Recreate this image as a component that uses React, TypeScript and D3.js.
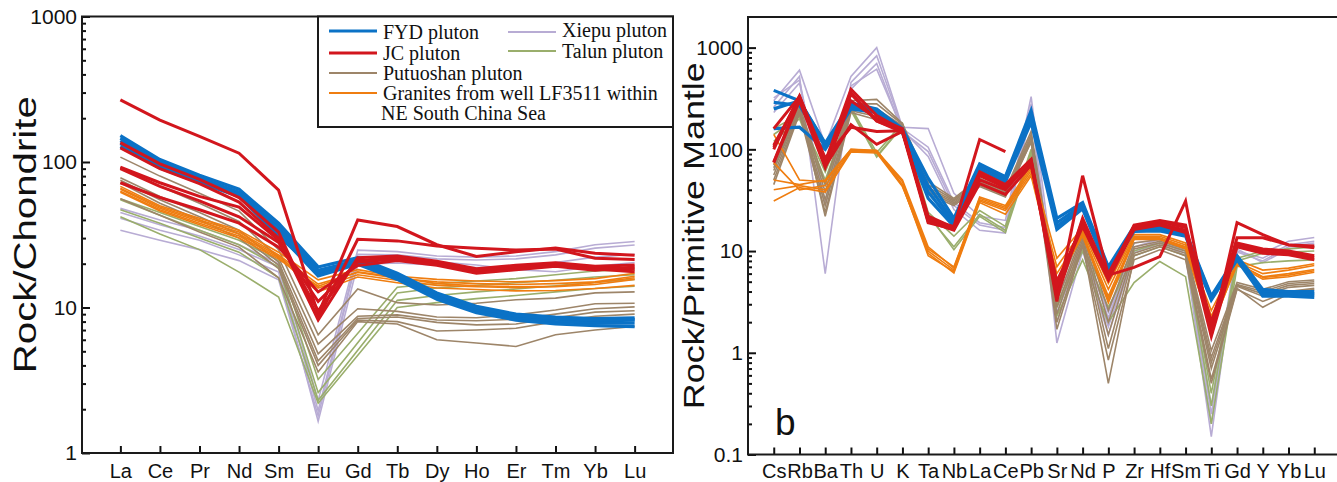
import React, { useEffect, useRef } from "react";
import * as d3 from "d3";

type Row = (number | null)[];

// ---- panel a: chondrite-normalised REE ----
const reeElements = ["La", "Ce", "Pr", "Nd", "Sm", "Eu", "Gd", "Tb", "Dy", "Ho", "Er", "Tm", "Yb", "Lu"];
const reeTicks = [1, 10, 100, 1000];

const xiepuRee: Row[] = [
  [48, 40, 34, 27, 20, 2.3, 24.8, 24.2, 22.6, 22.2, 22.6, 24.2, 27, 28.4],
  [45, 37, 31, 25, 19, 1.95, 23.2, 23.0, 21.6, 21.2, 21.6, 23.0, 25.6, 26.9],
  [41, 34, 29, 23, 17.5, 1.65, 19.8, 20.2, 19.5, 18.8, 18.8, 20.4, 22.2, 23.2],
  [34, 29, 25, 21, 15.5, 1.8, 22.5, 22.0, 20.6, 19.6, 18.2, 17.6, 19.2, 20.4],
];
const talunRee: Row[] = [
  [56, 45, 36, 29, 21, 3.2, null, 13.8, 14.6, 15.2, 15.8, 16.8, 17.8, 18.2],
  [55, 43, 34, 27, 19, 2.6, null, 12.6, 13.6, 14.2, 14.8, 15.4, 16.2, 16.8],
  [47, 38, 30, 24, 16, 2.3, null, 11.2, 12.1, 12.8, 13.4, 14.1, 14.9, 15.6],
  [42, 32, 25, 17.5, 11.8, 2.2, null, 10.0, 10.8, 11.5, 12.1, 12.8, 13.5, 14.0],
];
const putuoRee: Row[] = [
  [108, 80, 61, 46, 25, 6.5, 13.4, 10.8, 10.4, 10.7, 11.3, 11.6, 12.6, 12.8],
  [92, 68, 52, 39, 22, 5.6, 9.8, 9.4, 8.6, 8.5, 8.9, 9.6, 10.6, 10.7],
  [78, 58, 45, 34, 20.5, 4.8, 8.7, 8.9, 8.2, 8.1, 8.3, 9.0, 9.8, 10.1],
  [75, 55, 42, 32, 19.5, 4.3, 8.4, 8.6, 7.9, 7.6, 7.7, 8.5, 9.3, 9.5],
  [72, 52, 40, 30, 18.5, 4.0, 8.2, 8.0, 6.9, 7.0, 7.2, 8.0, 8.7, 9.0],
  [56, 43, 33, 26, 16, 3.6, 8.0, 7.7, 6.0, 5.7, 5.4, 6.5, 7.0, 7.4],
];
const graniteRee: Row[] = [
  [68, 50, 41, 34, 24, 15.5, 18.2, 16.4, 15.6, 15.2, 15.0, 15.3, 15.8, 17.2],
  [66, 49, 40, 33, 23, 14.5, 17.4, 15.9, 15.0, 14.6, 14.4, 14.6, 15.0, 16.4],
  [65, 48, 39, 32, 22.5, 13.6, 16.8, 15.4, 14.2, 13.9, 13.7, 13.9, 14.4, 15.6],
  [63, 47, 38, 31, 22, 12.8, 16.2, 14.8, 13.6, 13.3, 13.0, 13.1, 13.5, 14.2],
  [62, 46, 37, 30, 21.5, 14, 17.6, 16.1, 14.6, 14.1, 13.9, 14.0, 14.8, 16.0],
];
const fydRee: Row[] = [
  [152, 104, 81, 65, 38, 19, 22, 17.2, 12.6, 10.2, 9.0, 8.6, 8.4, 8.5],
  [146, 100, 78, 62, 36, 18, 21, 16.6, 12.2, 9.8, 8.7, 8.3, 8.1, 8.2],
  [140, 97, 76, 60, 34, 17.2, 20.5, 16.2, 11.8, 9.5, 8.4, 8.0, 7.8, 7.8],
  [134, 94, 74, 59, 32, 16.5, 19.8, 15.6, 11.4, 9.2, 8.2, 7.7, 7.5, 7.4],
  [128, 91, 72, 58, 31, 17.6, 21.2, 16.8, 12.4, 10.0, 8.8, 8.4, 8.2, 8.3],
];
const jcRee: Row[] = [
  [267, 194, 150, 115, 64, 9.0, 40, 36, 27, 22.4, 24.2, 25.6, 23.6, 22.9],
  [136, 97, 76, 57, 33, 8.4, 29.4, 28.7, 26.5, 25.5, 24.8, 25.2, 21.8, 21.4],
  [125, 90, 71, 53, 30, 8.2, 22, 22.6, 20.8, 18.5, 19.5, 20.3, 19.2, 19.6],
  [92, 72, 58, 49, 29, 9.5, 21, 22.2, 20.2, 17.6, 19, 19.8, 18.8, 18.4],
  [90, 68, 54, 42, 28, 11, 20.5, 21.6, 19.8, 18.2, 18.6, 19.4, 18.4, 17.6],
  [72, 57, 47, 38, 26, 12.8, 19.4, 21, 19.5, 17.2, 18.2, 19.2, 18.0, 19.0],
];

// ---- panel b: primitive-mantle-normalised trace elements ----
const pmElements = ["Cs", "Rb", "Ba", "Th", "U", "K", "Ta", "Nb", "La", "Ce", "Pb", "Sr", "Nd", "P", "Zr", "Hf", "Sm", "Ti", "Gd", "Y", "Yb", "Lu"];
const pmTicks = [0.1, 1, 10, 100, 1000];

const xiepuPm: Row[] = [
  [300, 600, 110, 520, 1000, 165, 160, 37, 22, 20, 330, 3.5, 12, 2.2, 12, 13, 10, 0.3, 11, 9.5, 12.5, 13.6],
  [260, 520, 6, 455, 830, 160, 105, 30, 19, 17, 280, 1.25, 10, 1.5, 9.6, 12, 9, 0.15, 10, 8.5, 11.5, 12.5],
  [230, 450, 30, 390, 700, 150, 95, 28, 18, 16, 250, 2.0, 11, 1.8, 10, 12.5, 9.5, 0.2, 10.5, 7.7, 10.5, 11.5],
  [320, 480, 28, 420, 614, 155, 85, 25.6, 16, 15, 240, 2.5, 10.5, 2.5, 11, 13, 10, 0.25, 9.8, 8, 11, 12],
];
const talunPm: Row[] = [
  [160, 220, 50, 260, 93, 180, 24, 14, 25, 17.5, 100, 2.3, 8.2, 2.0, 4.9, 7.9, 5.6, 0.2, 7.0, 7.7, 8.0, 8.2],
  [140, 210, 60, 250, 86, 170, 22, 11, 23, 16, 95, 2.8, 10, 2.8, 9, 11, 9, 0.3, 8.0, 9.5, 9.8, 10],
  [120, 200, 45, 240, 84, 168, 23, 10.3, 22, 15.2, 90, 3.0, 11, 3.5, 10, 12, 10, 0.4, 8.5, 10, 10.5, 11],
];
const putuoPm: Row[] = [
  [70, 270, 45, 300, 310, 180, 48, 33, 52, 40, 150, 3.8, 16, 2.6, 12, 13, 11, 1.05, 4.9, 4.2, 5.0, 5.2],
  [62, 250, 38, 280, 280, 176, 45, 32, 50, 38, 140, 3.2, 15, 2.0, 11, 12.5, 10.5, 0.9, 4.7, 4.0, 4.8, 5.0],
  [56, 240, 32, 262, 250, 170, 42, 31, 48, 37, 132, 2.8, 14, 1.5, 10.5, 12, 10, 0.8, 4.6, 3.8, 4.6, 4.8],
  [50, 232, 28, 250, 230, 165, 40, 30, 46, 36, 126, 2.4, 13, 1.1, 9.5, 11.5, 9.5, 0.7, 4.5, 3.6, 4.4, 4.6],
  [45, 225, 24, 240, 210, 160, 38, 29, 44, 35, 120, 2.0, 12, 0.5, 9.0, 11, 9, 0.55, 4.3, 2.8, 3.8, 4.2],
  [66, 258, 22, 230, 195, 158, 36, 28, 43, 34, 118, 1.7, 11.3, 0.85, 8.2, 10.3, 8.2, 0.5, 4.2, 3.2, 4.0, 4.3],
];
const granitePm: Row[] = [
  [140, 50, 48, 100, 96, 50, 11, 6.8, 34, 28, 70, 8.5, 17, 4.8, 14.5, 14.5, 12, 2.6, 8.2, 6.5, 6.8, 7.5],
  [74, 40, 44, 98, 95, 48, 10, 6.5, 32, 26, 62, 7, 16, 4.2, 14, 14, 11.5, 2.3, 7.8, 6.0, 6.5, 7.2],
  [50, 45, 50, 100, 98, 45, 9, 6.3, 31, 25, 58, 6, 15, 3.6, 13.5, 13.5, 11, 2.0, 7.5, 5.6, 6.0, 6.6],
  [40, 44, 40, 96, 94, 44, 9.5, 6.1, 30, 23, 55, 5.2, 14, 3.3, 13, 13, 10.5, 1.8, 7.3, 5.3, 5.6, 6.2],
  [31, 42, 38, 94, 92, 43, 10.5, 7, 33, 27, 66, 4.9, 14.5, 3.1, 13.2, 13.2, 10.8, 1.7, 7.6, 5.5, 5.8, 6.4],
];
const fydPm: Row[] = [
  [380, 300, 112, 275, 245, 160, 52, 21, 72, 54, 240, 21, 30, 7.0, 17.5, 17.5, 15.6, 3.6, 9.0, 4.2, 4.0, 4.0],
  [290, 270, 106, 262, 235, 150, 44, 19.5, 68, 51, 220, 19, 28.5, 6.7, 16.8, 17, 15.2, 3.5, 8.8, 4.0, 3.9, 3.8],
  [250, 300, 115, 285, 250, 155, 38, 18.5, 70, 53, 205, 17.5, 27, 6.4, 16.2, 16.5, 14.6, 3.4, 8.5, 3.8, 3.8, 3.7],
  [160, 165, 100, 250, 230, 145, 33, 17.5, 64, 48, 185, 16.3, 26, 6.2, 15.6, 15.8, 14, 3.3, 8.2, 3.6, 3.6, 3.5],
];
const jcPm: Row[] = [
  [105, 330, 72, 360, 190, 152, 20, 17.5, 125, 95, null, null, null, null, null, null, null, null, null, null, null, null],
  [75, 320, 68, 175, 112, 150, 22, 17, 50, 40, 78, 3.2, 55, 5.8, 6.9, 8.8, 31, 1.5, 19, 14.5, 11.5, 11.2],
  [100, 335, 75, 390, 215, 155, 20, 16.5, 60, 45, 80, 4.0, 20, 5.5, 18, 20, 18, 1.8, 13.5, 13.5, 11.5, 10.8],
  [110, 320, 70, 350, 190, 148, 19, 16.5, 55, 42, 72, 5.0, 18, 6.0, 17.5, 19.5, 17, 2.0, 12, 10.5, 10, 9.0],
  [160, 330, 82, 165, 150, 152, 21, 17, 58, 44, 76, 3.5, 21, 5.6, 16.8, 18.5, 16, 1.6, 11.5, 10, 9.5, 8.6],
  [74, 300, 66, 300, 200, 160, 19.5, 16, 46, 36, 70, 4.5, 17.5, 5.2, 16.3, 18, 15.2, 1.45, 11, 9.5, 9.2, 8.2],
];

const legendNames = ["FYD pluton", "JC pluton", "Putuoshan pluton", "Granites from well LF3511 within", "Xiepu pluton", "Talun pluton"];

const SANS = "'Liberation Sans', Arial, Helvetica, sans-serif";
const SERIF = "'Liberation Serif', 'Times New Roman', serif";

const BLUE = "#0b72c6";
const RED = "#d2161d";
const BROWN = "#9d8569";
const ORANGE = "#ef7d10";
const LAVENDER = "#b8acd4";
const GREEN = "#9aae6c";

type Group = { rows: Row[]; color: string; width: number };

type Panel = {
  left: number; right: number; top: number; bottom: number; pad: number;
  elements: string[]; domain: [number, number]; ticks: number[];
  groups: Group[]; yLabel: string; yLabelX: number; yLabelLen: number; yLabelSize: number;
  xPad: number;
};

function drawPanel(svg: any, p: Panel) {
  const x = d3.scalePoint<string>().domain(p.elements).range([p.left, p.right]).padding(p.pad);
  const y = d3.scaleLog().domain(p.domain).range([p.bottom, p.top]);
  const g = svg.append("g");

  const line = d3.line<[string, number]>()
    .x((d) => x(d[0]) as number)
    .y((d) => y(d[1]));

  // sample lines
  p.groups.forEach((grp) => {
    grp.rows.forEach((row) => {
      const pts = row
        .map((v, i) => [p.elements[i], v] as [string, number | null])
        .filter((d) => d[1] != null) as [string, number][];
      g.append("path")
        .attr("d", line(pts))
        .attr("fill", "none")
        .attr("stroke", grp.color)
        .attr("stroke-width", grp.width);
    });
  });

  // minor ticks (2..9 per decade)
  const [lo, hi] = p.domain;
  const minor: number[] = [];
  for (let e = Math.floor(Math.log10(lo)); e <= Math.ceil(Math.log10(hi)); e++) {
    for (let k = 2; k <= 9; k++) {
      const v = k * Math.pow(10, e);
      if (v > lo && v < hi * 0.999) minor.push(v);
    }
  }

  g.append("g")
    .attr("transform", `translate(${p.left},0)`)
    .call(d3.axisLeft(y).tickValues(minor).tickSize(-4).tickFormat(() => ""))
    .call((a: any) => a.select(".domain").remove())
    .call((a: any) => a.selectAll("line").attr("stroke", "#111").attr("stroke-width", 2));

  g.append("g")
    .attr("transform", `translate(${p.left},0)`)
    .call(d3.axisLeft(y).tickValues(p.ticks).tickSize(-8).tickPadding(5).tickFormat(d3.format("~g") as any))
    .call((a: any) => a.select(".domain").remove())
    .call((a: any) => a.selectAll("line").attr("stroke", "#111").attr("stroke-width", 2))
    .call((a: any) => a.selectAll("text").attr("font-family", SANS).attr("font-size", 21).attr("fill", "#111"));

  g.append("g")
    .attr("transform", `translate(0,${p.bottom})`)
    .call(d3.axisBottom(x).tickSize(-7).tickPadding(p.xPad))
    .call((a: any) => a.select(".domain").remove())
    .call((a: any) => a.selectAll("line").attr("stroke", "#111").attr("stroke-width", 2))
    .call((a: any) => a.selectAll("text").attr("font-family", SANS).attr("font-size", 20).attr("fill", "#111"));

  // frame
  g.append("rect")
    .attr("x", p.left)
    .attr("y", p.top)
    .attr("width", p.right - p.left)
    .attr("height", p.bottom - p.top)
    .attr("fill", "none")
    .attr("stroke", "#1a1a1a")
    .attr("stroke-width", 2);

  // y label
  g.append("text")
    .attr("transform", `translate(${p.yLabelX},${(p.top + p.bottom) / 2 + 0}) rotate(-90)`)
    .attr("text-anchor", "middle")
    .attr("font-family", SANS)
    .attr("font-size", p.yLabelSize)
    .attr("textLength", p.yLabelLen)
    .attr("lengthAdjust", "spacingAndGlyphs")
    .attr("fill", "#111")
    .text(p.yLabel);
}

export default function App() {
  const svgRef = useRef<SVGSVGElement>(null);

  useEffect(() => {
    const svg = d3.select(svgRef.current);
    svg.selectAll("*").remove();

    drawPanel(svg, {
      left: 82, right: 673, top: 16.5, bottom: 453, pad: 0.97,
      elements: reeElements, domain: [1, 1000], ticks: reeTicks,
      groups: [
        { rows: xiepuRee, color: LAVENDER, width: 1.6 },
        { rows: talunRee, color: GREEN, width: 1.6 },
        { rows: putuoRee, color: BROWN, width: 1.6 },
        { rows: graniteRee, color: ORANGE, width: 1.6 },
        { rows: fydRee, color: BLUE, width: 3.2 },
        { rows: jcRee, color: RED, width: 3 },
      ],
      yLabel: "Rock/Chondrite", yLabelX: 36, yLabelLen: 277, yLabelSize: 32, xPad: 11,
    });

    drawPanel(svg, {
      left: 748, right: 1340, top: 17, bottom: 454.5, pad: 1,
      elements: pmElements, domain: [0.1, 2000], ticks: pmTicks,
      groups: [
        { rows: xiepuPm, color: LAVENDER, width: 1.6 },
        { rows: talunPm, color: GREEN, width: 1.6 },
        { rows: putuoPm, color: BROWN, width: 1.6 },
        { rows: granitePm, color: ORANGE, width: 1.6 },
        { rows: fydPm, color: BLUE, width: 3.2 },
        { rows: jcPm, color: RED, width: 3 },
      ],
      yLabel: "Rock/Primitive Mantle", yLabelX: 704, yLabelLen: 347, yLabelSize: 29, xPad: 9.5,
    });

    // panel letter
    svg.append("text")
      .attr("x", 775).attr("y", 435)
      .attr("font-family", SANS).attr("font-size", 37).attr("fill", "#111")
      .text("b");

    // legend
    const lg = svg.append("g");
    lg.append("rect")
      .attr("x", 318).attr("y", 16.5).attr("width", 355).attr("height", 110.5)
      .attr("fill", "white").attr("stroke", "#1a1a1a").attr("stroke-width", 2);

    const entries = [
      { name: legendNames[0], color: BLUE, w: 3, x: 329, ly: 31, ty: 39 },
      { name: legendNames[1], color: RED, w: 3, x: 329, ly: 53, ty: 60 },
      { name: legendNames[2], color: BROWN, w: 2.2, x: 329, ly: 73, ty: 80 },
      { name: legendNames[3], color: ORANGE, w: 2.2, x: 329, ly: 93, ty: 100 },
      { name: legendNames[4], color: LAVENDER, w: 2.2, x: 508, ly: 32, ty: 37 },
      { name: legendNames[5], color: GREEN, w: 2.2, x: 508, ly: 51, ty: 58 },
    ];
    entries.forEach((e) => {
      lg.append("line")
        .attr("x1", e.x).attr("x2", e.x + 48)
        .attr("y1", e.ly).attr("y2", e.ly)
        .attr("stroke", e.color).attr("stroke-width", e.w);
      lg.append("text")
        .attr("x", e.x + 54).attr("y", e.ty)
        .attr("font-family", SERIF).attr("font-size", 20).attr("fill", "#111")
        .text(e.name);
    });
    lg.append("text")
      .attr("x", 381).attr("y", 120)
      .attr("font-family", SERIF).attr("font-size", 20).attr("fill", "#111")
      .text("NE South China Sea");
  }, []);

  return (
    <svg
      ref={svgRef}
      width={1337}
      height={482}
      style={{ position: "absolute", left: 0, top: 0, background: "white", display: "block" }}
    />
  );
}
